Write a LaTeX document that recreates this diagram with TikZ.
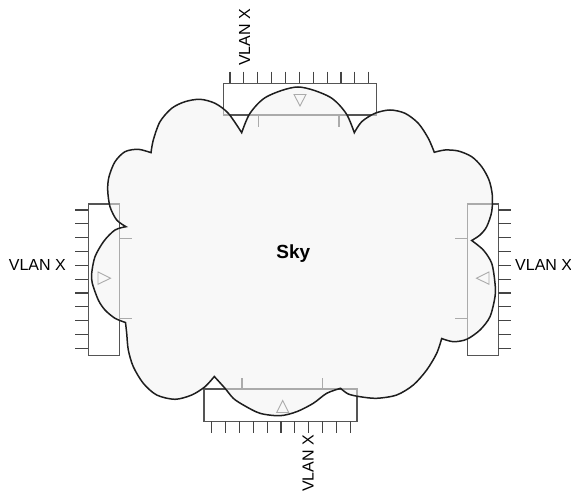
\documentclass[tikz,border=0pt]{standalone}
\usepackage{fontspec}
\setmainfont{Liberation Sans}
\begin{document}
\begin{tikzpicture}[x=1pt,y=-1pt,
  swbox/.style={draw=swgray,line width=1.1pt,rectangle,inner sep=0pt},
  portline/.style={draw=portgray,line width=1.1pt},
  innerline/.style={draw=swgray,line width=1.1pt},
  tri/.style={draw=swgray,line width=0.9pt,line join=miter},
  cloudstyle/.style={fill=cloudfill,fill opacity=0.55,draw=cloudline,draw opacity=1,line width=1.5pt,line join=miter},
  vlan/.style={font=\fontsize{16}{16}\selectfont,inner sep=0pt,text=black},
]
\definecolor{swgray}{HTML}{555555}
\definecolor{portgray}{HTML}{444444}
\definecolor{cloudfill}{HTML}{F2F2F2}
\definecolor{cloudline}{HTML}{1E1E1E}
\useasboundingbox (0,0) rectangle (571,494);

% switches
\node[swbox,minimum width=153.4pt,minimum height=31.7pt] (swT) at (300,99.15) {};
\node[swbox,minimum width=153pt,minimum height=32.5pt] (swB) at (280.5,405.25) {};
\node[swbox,minimum width=31pt,minimum height=151.7pt] (swL) at (103.8,279.85) {};
\node[swbox,minimum width=31pt,minimum height=151.7pt] (swR) at (482.8,279.85) {};

% ports
\foreach \i in {0,...,10} {
  \draw[portline] ({230+13.87*\i},71.7) -- ({230+13.87*\i},83.3);
  \draw[portline] ({211.7+13.86*\i},421.5) -- ({211.7+13.86*\i},433);
  \draw[portline] (75,{210+13.83*\i}) -- (88.3,{210+13.83*\i});
  \draw[portline] (498.3,{210+13.83*\i}) -- (511,{210+13.83*\i});
}

% inner ticks
\draw[innerline] (258.7,115) -- (258.7,126.7);
\draw[innerline] (339,115) -- (339,126.7);
\draw[innerline] (242,389) -- (242,378);
\draw[innerline] (322.7,389) -- (322.7,378);
\draw[innerline] (119.3,238.3) -- (131.7,238.3);
\draw[innerline] (119.3,318.3) -- (131.7,318.3);
\draw[innerline] (467.3,238.3) -- (455,238.3);
\draw[innerline] (467.3,318.3) -- (455,318.3);

% triangles
\draw[tri] (294,94.5) -- (306,94.5) -- (300,106) -- cycle;
\draw[tri] (276.7,412.5) -- (288.7,412.5) -- (282.7,400.5) -- cycle;
\draw[tri] (98,272) -- (98,284.3) -- (110.5,278.2) -- cycle;
\draw[tri] (489,272) -- (489,284.3) -- (476.5,278.2) -- cycle;

% cloud
\draw[cloudstyle]
  plot[smooth,tension=0.5] coordinates {(151,152.7) (153.3,140) (160,121.7) (171.7,108.3) (185,101.7) (200,99.3) (215,103.3) (228.3,113.3) (241.7,132.7)}
  -- plot[smooth,tension=0.5] coordinates {(241.7,132.7) (250,113.3) (266.7,96.7) (298,87) (329.3,96.7) (346,113.3) (354.3,132.7)}
  -- plot[smooth,tension=0.5] coordinates {(354.3,132.7) (361.7,121.7) (375,113.3) (390,110) (405,113.3) (418.3,123.3) (428.3,138.3) (434.3,152.3)}
  -- plot[smooth,tension=0.5] coordinates {(434.3,152.3) (445,150) (458.3,151) (471.7,156.7) (481.7,166.7) (489,180) (492.3,195) (491.7,211.7) (486.7,226.7) (480,235) (471.7,240.5)}
  -- plot[smooth,tension=0.5] coordinates {(471.7,240.5) (483.3,250) (491.7,263.3) (495,283.3) (495,296.7) (490,316.7) (480,330) (466.7,339.3) (453.3,341.7) (441.7,338.5)}
  -- plot[smooth,tension=0.5] coordinates {(441.7,338.5) (436.7,353.3) (426.7,370) (413.3,385) (396.7,395) (376.7,398.3) (360,396.7) (348.3,394) (340.5,388.3)}
  -- plot[smooth,tension=0.5] coordinates {(340.5,388.3) (326.7,393.3) (313.3,403.3) (296.7,411.7) (280,415.7) (260,413.3) (243.3,405) (233.3,398.3) (225,388.3) (214.3,376.5)}
  -- plot[smooth,tension=0.5] coordinates {(214.3,376.5) (205,386.7) (191.7,395) (175,399.3) (156.7,395) (143.3,383.3) (133.3,366.7) (128.3,350) (126.7,333.3) (125.5,322.5)}
  -- plot[smooth,tension=0.5] coordinates {(125.5,322.5) (115,318.3) (105,310) (98.3,300) (92.3,283.3) (91.7,273.3) (95,256.7) (104,241) (115,230) (126,226.7)}
  -- plot[smooth,tension=0.5] coordinates {(126,226.7) (116.7,220) (110,206.7) (107.7,190) (109,176.7) (115,161.7) (125,151.7) (138.3,149.3) (151,152.7)}
  -- cycle;

% labels
\node[font=\bfseries\fontsize{19}{19}\selectfont,inner sep=0pt,anchor=base] (sky) at (293.3,258.3) {Sky};
\node[vlan,anchor=base east] (lblL) at (66,271) {VLAN X};
\node[vlan,anchor=base west] (lblR) at (515,271) {VLAN X};
\node[vlan,rotate=90,anchor=base west] (lblT) at (250,66) {VLAN X};
\node[vlan,rotate=90,anchor=base west] (lblB) at (313.5,492) {VLAN X};
\end{tikzpicture}
\end{document}
